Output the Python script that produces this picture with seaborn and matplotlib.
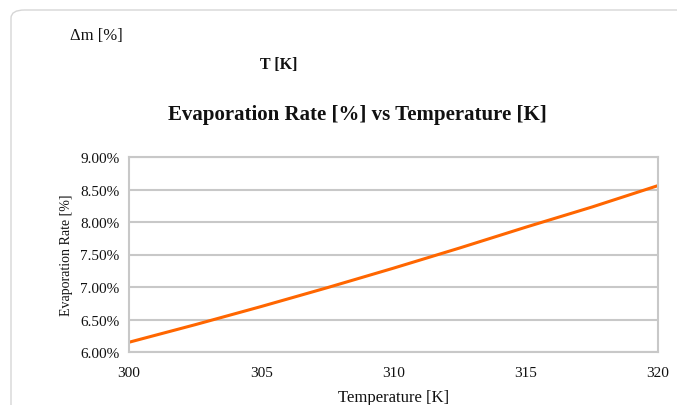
import matplotlib
matplotlib.use("Agg")
import matplotlib.pyplot as plt
import seaborn as sns
import pandas as pd
from matplotlib.patches import FancyBboxPatch
from matplotlib.ticker import FuncFormatter

temperature = [300, 302.5, 305, 307.5, 310, 312.5, 315, 317.5, 320]
evap_rate = [6.15, 6.42, 6.70, 6.99, 7.29, 7.60, 7.92, 8.23, 8.56]
x_ticks = [300, 305, 310, 315, 320]
y_ticks = [6.0, 6.5, 7.0, 7.5, 8.0, 8.5, 9.0]

df = pd.DataFrame({"T": temperature, "rate": evap_rate})

sns.set_theme(style="white")
plt.rcParams["font.family"] = ["Liberation Serif", "DejaVu Serif"]

fig = plt.figure(figsize=(6.77, 4.06), dpi=100)
fig.patch.set_facecolor("white")

# outer rounded border
border = FancyBboxPatch((11 / 677, -0.1), 1.2, (406 - 11) / 406 + 0.1,
                        boxstyle="round,pad=0,rounding_size=0.02",
                        transform=fig.transFigure, fill=False,
                        edgecolor="#d6d6d6", linewidth=1.0, clip_on=False)
fig.patches.append(border)

ax = fig.add_axes([129 / 677, 1 - 353 / 406, (658 - 129) / 677, (353 - 158) / 406])
sns.lineplot(data=df, x="T", y="rate", ax=ax, color="#ff6600", linewidth=2.2)

ax.set_xlim(300, 320)
ax.set_ylim(6.0, 9.0)
ax.set_xticks(x_ticks)
ax.set_yticks(y_ticks)
ax.yaxis.set_major_formatter(FuncFormatter(lambda v, p: f"{v:.2f}%"))
ax.grid(True, axis="y", color="#c8c8c8", linewidth=1.5)
for s in ax.spines.values():
    s.set_color("#c8c8c8")
    s.set_linewidth(1.5)
ax.tick_params(axis="both", labelsize=11, colors="#111111", length=0, pad=7)
ax.tick_params(axis="x", pad=10)
ax.set_xlabel("Temperature [K]", fontsize=12, color="#111111", labelpad=7)
ax.set_ylabel("Evaporation Rate [%]", fontsize=10, color="#111111", labelpad=5)

fig.text(70 / 677, 1 - 36 / 406, "Δm [%]", fontsize=12, color="#111111", va="center", ha="left")
fig.text(260 / 677, 1 - 65 / 406, "T [K]", fontsize=11.5, color="#111111", va="center", ha="left",
         fontweight="bold")
fig.text(357 / 677, 1 - 115 / 406, "Evaporation Rate [%] vs Temperature [K]", fontsize=15,
         fontweight="bold", color="#111111", va="center", ha="center")

fig.savefig("out.png", dpi=100, facecolor="white")
